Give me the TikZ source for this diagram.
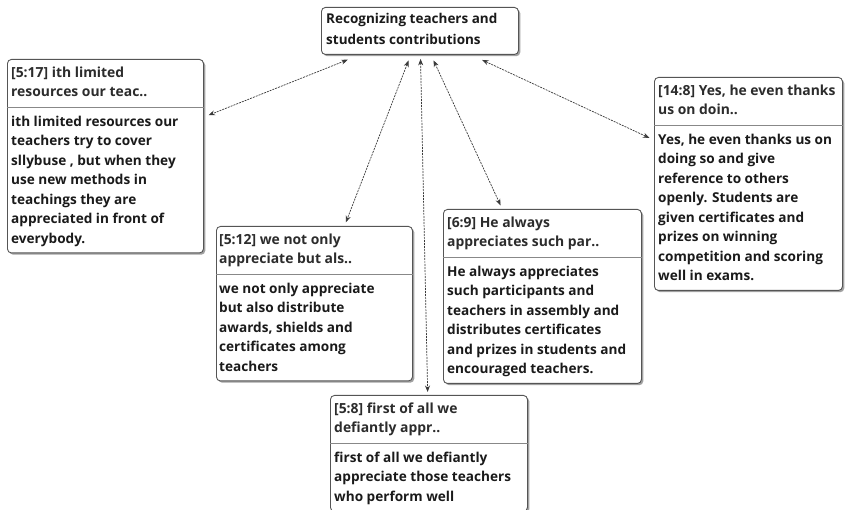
\documentclass[tikz,border=0pt]{standalone}
\usepackage{fontspec}
\setmainfont{Open Sans}
\usetikzlibrary{arrows.meta,shadows}
\definecolor{boxline}{HTML}{555555}
\definecolor{shadowc}{HTML}{8A8A8A}
\definecolor{sepc}{HTML}{888888}
\definecolor{linkc}{HTML}{3A3A3A}
\definecolor{txt}{HTML}{1A1A1A}
\begin{document}
\begin{tikzpicture}[x=1pt,y=-1pt,
  cbox/.style={draw=boxline, rounded corners=4pt, fill=white, line width=0.9pt, inner sep=0pt, anchor=north west,
     drop shadow={shadow xshift=1.8pt, shadow yshift=-1.8pt, fill=shadowc, opacity=0.8}},
  hdr/.style={inner sep=0pt, anchor=north west, align=left, text=txt!92, font=\fontsize{13.9}{19.5}\selectfont\bfseries},
  bdy/.style={inner sep=0pt, anchor=north west, align=left, text=txt, font=\fontsize{13.6}{19.5}\selectfont\bfseries},
  ttl/.style={inner sep=0pt, anchor=north west, align=left, text=txt, font=\fontsize{13.5}{21}\selectfont\bfseries},
  sepl/.style={draw=sepc, line width=0.8pt},
  link/.style={draw=linkc, line width=0.7pt, dash pattern=on 2pt off 1pt,
     {Stealth[length=6.5pt,width=5pt]}-{Stealth[length=6.5pt,width=5pt]}}
]
\useasboundingbox (0,0) rectangle (849,510);
\newcommand\st{\rule{0pt}{11pt}}

% title
\node[cbox, minimum width=197pt, minimum height=47pt] (title) at (321,7) {};
\node[ttl] (titlet) at (326,12.5) {\st Recognizing teachers and\\students contributions};

% [5:17]  top 59, n=7
\node[cbox, minimum width=196pt, minimum height=193.5pt] (b517) at (7,59) {};
\node[hdr] (b517h) at (11,66) {\st[5:17] ith limited\\resources our teac..};
\draw[sepl] (b517.west |- 0,107) -- (b517.east |- 0,107);
\node[bdy] (b517b) at (11,115) {\st ith limited resources our\\teachers try to cover\\sllybuse , but when they\\use new methods in\\teachings they are\\appreciated in front of\\everybody.};

% [5:12] top 226, n=5
\node[cbox, minimum width=196pt, minimum height=154.5pt] (b512) at (216,226) {};
\node[hdr] (b512h) at (219,233) {\st[5:12] we not only\\appreciate but als..};
\draw[sepl] (b512.west |- 0,274) -- (b512.east |- 0,274);
\node[bdy] (b512b) at (219,282) {\st we not only appreciate\\but also distribute\\awards, shields and\\certificates among\\teachers};

% [6:9] top 209, n=6
\node[cbox, minimum width=198pt, minimum height=174pt] (b69) at (443,209) {};
\node[hdr] (b69h) at (447,216) {\st[6:9] He always\\appreciates such par..};
\draw[sepl] (b69.west |- 0,257) -- (b69.east |- 0,257);
\node[bdy] (b69b) at (447,265) {\st He always appreciates\\such participants and\\teachers in assembly and\\distributes certificates\\and prizes in students and\\encouraged teachers.};

% [14:8] top 77, n=8
\node[cbox, minimum width=188pt, minimum height=213pt] (b148) at (654,77) {};
\node[hdr] (b148h) at (658,84) {\st[14:8] Yes, he even thanks\\us on doin..};
\draw[sepl] (b148.west |- 0,125) -- (b148.east |- 0,125);
\node[bdy] (b148b) at (658,133) {\st Yes, he even thanks us on\\doing so and give\\reference to others\\openly. Students are\\given certificates and\\prizes on winning\\competition and scoring\\well in exams.};

% [5:8] top 395, n=3
\node[cbox, minimum width=197pt, minimum height=116pt] (b58) at (330,395) {};
\node[hdr] (b58h) at (334,402) {\st[5:8] first of all we\\defiantly appr..};
\draw[sepl] (b58.west |- 0,443) -- (b58.east |- 0,443);
\node[bdy] (b58b) at (334,451) {\st first of all we defiantly\\appreciate those teachers\\who perform well};

% links
\draw[link, shorten <=13pt, shorten >=5pt] (title) -- (b517);
\draw[link, shorten <=6pt, shorten >=4pt] (title) -- (b512);
\draw[link, shorten <=4pt, shorten >=3pt] (title) -- (b58);
\draw[link, shorten <=6pt, shorten >=4pt] (title) -- (b69);
\draw[link, shorten <=12pt, shorten >=5pt] (title) -- (b148);
\end{tikzpicture}
\end{document}
